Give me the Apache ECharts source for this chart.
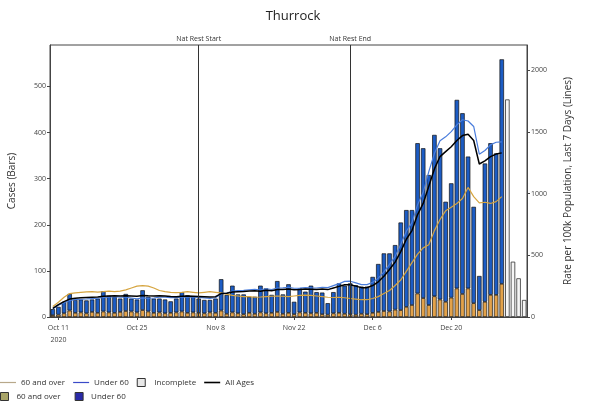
<!DOCTYPE html>
<html><head><meta charset="utf-8">
<script src="https://cdn.jsdelivr.net/npm/echarts@6/dist/echarts.min.js"></script>
<style>html,body{margin:0;padding:0;background:#fff}#c{width:591px;height:407px}</style>
</head><body><div id="c"></div>
<script>
// ---- data ----
const startDate = '2020-10-10';
const dayCount = 85;
const over60Cases = [4,5,8,14,9,10,8,11,9,12,10,9,11,13,12,10,15,12,9,10,8,9,10,12,9,10,9,8,10,9,14,7,10,8,6,9,7,10,8,9,11,7,9,6,10,9,8,9,6,5,8,9,7,6,5,7,6,9,11,13,12,16,15,22,26,51,41,26,45,38,33,42,62,50,62,30,15,33,48,48,72];
const under60Cases = [13,17,25,36,28,28,28,27,31,44,36,35,29,37,28,28,43,32,31,30,30,25,30,42,38,34,31,29,27,31,68,41,58,41,43,35,37,58,54,39,67,42,62,27,52,46,60,45,47,25,46,64,61,67,64,59,60,78,104,125,126,140,190,210,206,326,325,282,350,328,217,248,409,392,286,209,74,300,329,307,487];
const incompleteCases = [472,120,84,37];
const over60Rate = [85,120,160,190,196,200,203,205,202,205,210,205,210,220,235,250,255,250,235,215,205,200,198,200,205,200,195,200,205,200,195,185,175,170,165,165,160,162,165,168,170,168,165,170,175,178,175,170,165,160,158,160,156,150,145,140,140,150,165,190,215,255,300,370,440,510,560,585,700,790,860,890,920,960,1050,975,925,930,920,935,975];
const under60Rate = [65,95,116,134,141,144,146,149,152,159,160,164,160,160,154,147,155,152,154,161,161,157,157,160,161,160,159,155,151,156,189,194,209,213,216,221,225,219,229,223,235,236,241,233,234,238,236,235,241,238,254,270,289,290,276,262,262,281,315,365,427,492,587,695,765,910,1010,1178,1325,1428,1460,1502,1557,1598,1588,1544,1319,1349,1395,1416,1419];
const allAgesRate = [70,100,125,145,152,155,158,160,162,168,170,172,170,172,170,168,175,172,170,172,170,166,165,168,170,168,166,164,162,165,190,192,202,204,206,210,212,208,216,212,222,222,226,220,222,226,224,222,226,222,235,248,262,262,250,238,238,255,285,330,385,445,530,630,700,830,920,1060,1200,1300,1340,1380,1430,1470,1480,1430,1240,1265,1300,1320,1330];
const tickDates = ['2020-10-11','2020-10-25','2020-11-08','2020-11-22','2020-12-06','2020-12-20'];
const tickTexts = ['Oct 11\n2020','Oct 25','Nov 8','Nov 22','Dec 6','Dec 20'];
const eventDates = ['2020-11-05','2020-12-02'];
const eventNames = ['Nat Rest Start','Nat Rest End'];
const leftTicks = [0,100,200,300,400,500];
const rightTicks = [0,500,1000,1500,2000];

// ---- build categories ----
const categories = [];
{
  const t0 = Date.parse(startDate + 'T00:00:00Z');
  for (let i = 0; i < dayCount; i++) {
    categories.push(new Date(t0 + i * 86400000).toISOString().slice(0, 10));
  }
}
const pad = (arr, from) => categories.map((c, i) => (i - from >= 0 && i - from < arr.length) ? arr[i - from] : '-');
const completeLen = over60Cases.length;

const FONT = 'Open Sans';
const LINE_ICON = 'path://M0,0H16V1.2H0Z';
const SQ_ICON = 'path://M0,0H10V10H0Z';
const chart = echarts.init(document.getElementById('c'), null, {renderer: 'canvas'});
chart.setOption({
  animation: false,
  backgroundColor: '#fff',
  textStyle: {fontFamily: FONT},
  title: {
    text: 'Thurrock', left: 288, top: 5, textAlign: 'center',
    textStyle: {fontSize: 13, fontWeight: 'normal', color: '#222', fontFamily: FONT}
  },
  grid: {left: 50, right: 64, top: 45, bottom: 90, show: true, borderColor: '#444', borderWidth: 1,
         containLabel: false, outerBoundsMode: 'none'},
  legend: [
    {
      left: 0, top: 378, padding: 0, itemWidth: 16, itemHeight: 8, itemGap: 8,
      textStyle: {fontSize: 8, color: '#333', fontFamily: FONT},
      data: [
        {name: '60 and over', icon: LINE_ICON, itemStyle: {color: '#b8a88a', borderWidth: 0}},
        {name: 'Under 60', icon: LINE_ICON, itemStyle: {color: '#3a4ac8', borderWidth: 0}},
        {name: 'Incomplete', icon: SQ_ICON, itemStyle: {color: '#e8e8e8', borderColor: '#333', borderWidth: 1}},
        {name: 'All Ages', icon: 'path://M0,0H16V1.6H0Z', itemStyle: {color: '#000', borderWidth: 0}}
      ]
    },
    {
      left: 0, top: 392, padding: 0, itemWidth: 14, itemHeight: 8, itemGap: 14,
      textStyle: {fontSize: 8, color: '#333', fontFamily: FONT},
      formatter: n => n.replace(' (bars)', ''),
      data: [
        {name: '60 and over (bars)', icon: SQ_ICON, itemStyle: {color: '#a8a468', borderColor: '#333', borderWidth: 1}},
        {name: 'Under 60 (bars)', icon: SQ_ICON, itemStyle: {color: '#2a2aa8', borderColor: '#333', borderWidth: 1}}
      ]
    }
  ],
  xAxis: {
    type: 'category', data: categories, boundaryGap: true,
    axisLine: {show: true, lineStyle: {color: '#444'}},
    axisTick: {show: true, alignWithLabel: true, length: 3, lineStyle: {color: '#444'},
               interval: (i, v) => tickDates.includes(v)},
    axisLabel: {interval: (i, v) => tickDates.includes(v), fontSize: 7, color: '#444', margin: 5, lineHeight: 12,
                formatter: v => { const k = tickDates.indexOf(v); return k >= 0 ? tickTexts[k] : ''; }},
    splitLine: {show: false}
  },
  yAxis: [
    {
      type: 'value', min: 0, max: 590, position: 'left',
      name: 'Cases (Bars)', nameLocation: 'middle', nameRotate: 90, nameGap: 33,
      nameTextStyle: {fontSize: 10, color: '#333', fontFamily: FONT},
      axisLine: {show: true, lineStyle: {color: '#444'}},
      axisTick: {show: true, length: 3, customValues: leftTicks, lineStyle: {color: '#444'}},
      axisLabel: {customValues: leftTicks, fontSize: 7, color: '#444', margin: 4, formatter: v => String(v)},
      splitLine: {show: false}
    },
    {
      type: 'value', min: 0, max: 2204, position: 'right',
      name: 'Rate per 100k Population, Last 7 Days (Lines)', nameLocation: 'middle', nameRotate: 90, nameGap: 36,
      nameTextStyle: {fontSize: 10, color: '#333', fontFamily: FONT},
      axisLine: {show: true, lineStyle: {color: '#444'}},
      axisTick: {show: true, length: 3, customValues: rightTicks, lineStyle: {color: '#444'}},
      axisLabel: {customValues: rightTicks, fontSize: 7, color: '#444', margin: 4, formatter: v => String(v)},
      splitLine: {show: false}
    }
  ],
  series: [
    {
      name: '60 and over (bars)', type: 'bar', stack: 'cases', barWidth: '80%', yAxisIndex: 0,
      data: pad(over60Cases, 0),
      itemStyle: {color: '#e3a24a', borderColor: '#111', borderWidth: 0.7}
    },
    {
      name: 'Under 60 (bars)', type: 'bar', stack: 'cases', barWidth: '80%', yAxisIndex: 0,
      data: pad(under60Cases, 0),
      itemStyle: {color: '#1c5cc4', borderColor: '#111', borderWidth: 0.7},
      markLine: {
        silent: true, symbol: ['none', 'none'],
        lineStyle: {color: '#333', width: 1, type: 'solid'},
        label: {position: 'end', formatter: p => p.name, fontSize: 7, color: '#333', distance: 3, fontFamily: FONT},
        data: eventDates.map((d, i) => ({name: eventNames[i], xAxis: d}))
      }
    },
    {
      name: 'Incomplete', type: 'bar', stack: 'cases', barWidth: '80%', yAxisIndex: 0,
      data: pad(incompleteCases, completeLen),
      itemStyle: {color: '#f6f6f6', borderColor: '#333', borderWidth: 0.8}
    },
    {
      name: '60 and over', type: 'line', yAxisIndex: 1, symbol: 'none', showSymbol: false,
      data: pad(over60Rate, 0),
      lineStyle: {color: '#d6a540', width: 1.2}, itemStyle: {color: '#d6a540'}
    },
    {
      name: 'Under 60', type: 'line', yAxisIndex: 1, symbol: 'none', showSymbol: false,
      data: pad(under60Rate, 0),
      lineStyle: {color: '#4a7ddc', width: 1.2}, itemStyle: {color: '#4a7ddc'}
    },
    {
      name: 'All Ages', type: 'line', yAxisIndex: 1, symbol: 'none', showSymbol: false,
      data: pad(allAgesRate, 0),
      lineStyle: {color: '#000', width: 1.5}, itemStyle: {color: '#000'}
    }
  ]
});
</script>
</body></html>
